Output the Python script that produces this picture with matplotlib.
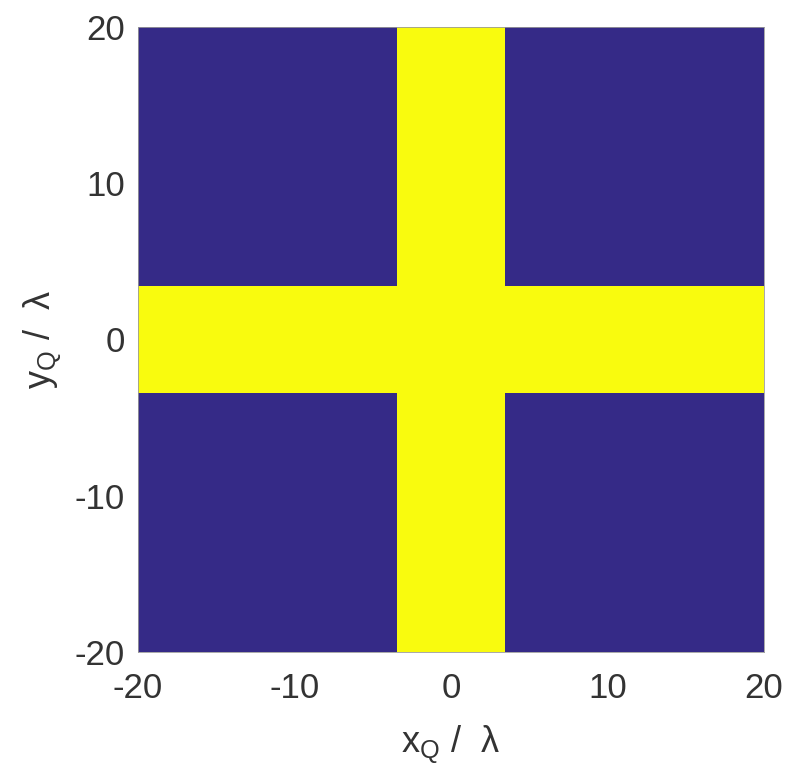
import numpy as np
import matplotlib
matplotlib.use("Agg")
import matplotlib.pyplot as plt

# Region edges (in wavelengths) and the mask values inside each cell
x_edges = [-20, -3.43, 3.43, 20]
y_edges = [-20, -3.43, 3.43, 20]
mask = [[0, 1, 0],
        [1, 1, 1],
        [0, 1, 0]]

tick_vals = [-20, -10, 0, 10, 20]

plt.rcParams['font.family'] = ['Liberation Sans', 'DejaVu Sans']
plt.rcParams['mathtext.default'] = 'regular'
plt.rcParams['axes.unicode_minus'] = False

fig = plt.figure(figsize=(7.89, 7.69), dpi=100)
ax = fig.add_axes([0.1745, 0.1518, 0.7938, 0.8135])

cmap = matplotlib.colors.ListedColormap(['#352a87', '#f9fb0e'])
ax.pcolormesh(x_edges, y_edges, np.array(mask), cmap=cmap, vmin=0, vmax=1)

ax.set_xlim(-20, 20)
ax.set_ylim(-20, 20)
ax.set_xticks(tick_vals)
ax.set_yticks(tick_vals)
ax.tick_params(length=0, labelsize=25, colors='#333333')
ax.tick_params(axis='x', pad=14)
ax.tick_params(axis='y', pad=9)
for s in ax.spines.values():
    s.set_color('#9a9a9a')
    s.set_linewidth(0.6)

ax.set_xlabel('x$_{Q}$ /  λ', fontsize=26, color='#333333', labelpad=14)
ax.set_ylabel('y$_{Q}$ /  λ', fontsize=26, color='#333333', labelpad=8)

fig.savefig('out.png', dpi=100)
